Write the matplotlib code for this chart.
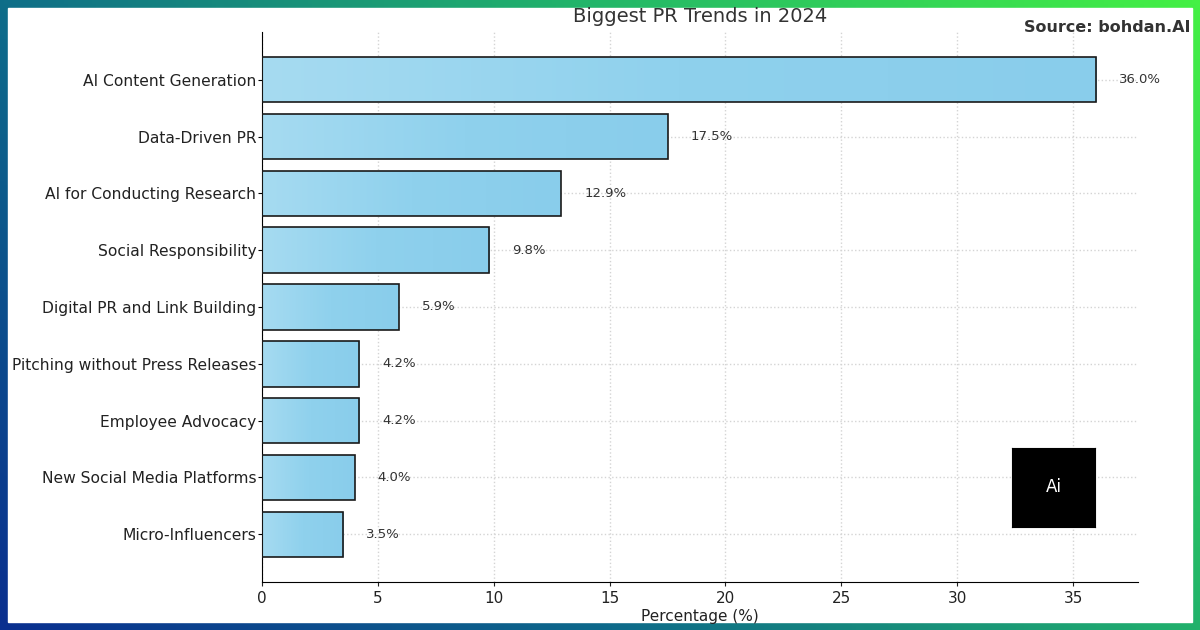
import matplotlib.pyplot as plt
import numpy as np
from matplotlib.colors import LinearSegmentedColormap
from matplotlib.patches import Rectangle

# Data
trends = ['AI Content Generation', 'Data-Driven PR', 'AI for Conducting Research',
          'Social Responsibility', 'Digital PR and Link Building',
          'Pitching without Press Releases', 'Employee Advocacy',
          'New Social Media Platforms', 'Micro-Influencers']
percent = [36.0, 17.5, 12.9, 9.8, 5.9, 4.2, 4.2, 4.0, 3.5]

fig = plt.figure(figsize=(12, 6.3), dpi=100)

# gradient frame behind everything
bg = fig.add_axes([0, 0, 1, 1], zorder=-10)
gx, gy = np.meshgrid(np.linspace(0, 1, 300), np.linspace(0, 1, 160))
frame_cmap = LinearSegmentedColormap.from_list('frame', ['#0a2f8f', '#0e6a8a', '#22b56a', '#44f044'])
bg.imshow(0.65 * gx + 0.35 * gy, cmap=frame_cmap, extent=[0, 1, 0, 1], aspect='auto', origin='lower')
bg.add_patch(Rectangle((8 / 1200, 8 / 630), 1184 / 1200, 614 / 630, color='white'))
bg.set_xlim(0, 1)
bg.set_ylim(0, 1)
bg.axis('off')

ax = fig.add_axes([262 / 1200, 48 / 630, 876 / 1200, 550 / 630])
ax.patch.set_alpha(0)

y = np.arange(len(trends))
bars = ax.barh(y, percent, height=0.8, color='none', edgecolor='#1a1a1a', linewidth=1.2, zorder=3)

# soft gradient fill inside each bar
bar_cmap = LinearSegmentedColormap.from_list('bar', ['#a6dbf1', '#8fd1ed', '#89cdeb'])
grad = np.linspace(0, 1, 256).reshape(1, -1)
for b in bars:
    x0, y0 = b.get_x(), b.get_y()
    w, h = b.get_width(), b.get_height()
    im = ax.imshow(grad, cmap=bar_cmap, extent=[x0, x0 + w, y0 + h, y0], aspect='auto', zorder=2)
    im.set_clip_path(b)
ax.set_ylim(len(trends) - 0.5 + 0.34, -0.5 - 0.34)
ax.set_xlim(0, max(percent) * 1.05)

for yi, v in zip(y, percent):
    ax.text(v + 1, yi, f'{v:.1f}%', va='center', ha='left', fontsize=9.5, color='#333333')

ax.set_yticks(y)
ax.set_yticklabels(trends, fontsize=11.2, color='#222222')
ax.tick_params(axis='y', length=3, pad=1)
ax.tick_params(axis='x', labelsize=11, colors='#222222', length=3)
ax.set_xlabel('Percentage (%)', fontsize=11, color='#222222', labelpad=2)
ax.grid(True, linestyle=':', color='#d4d4d4', linewidth=1, zorder=0)
ax.set_axisbelow(True)
for s in ['top', 'right']:
    ax.spines[s].set_visible(False)

fig.text(700 / 1200, 1 - 17 / 630, 'Biggest PR Trends in 2024',
         ha='center', va='center', fontsize=14, color='#333333')
fig.text(1190 / 1200, 1 - 28 / 630, 'Source: bohdan.AI', ha='right', va='center',
         fontsize=11.5, fontweight='bold', color='#333333')

# small logo box
logo = fig.add_axes([1012 / 1200, 1 - 527 / 630, 83 / 1200, 79 / 630])
logo.set_facecolor('black')
logo.set_xticks([])
logo.set_yticks([])
logo.text(0.5, 0.5, 'Ai', color='white', ha='center', va='center', fontsize=12, transform=logo.transAxes)

fig.savefig('out.png', dpi=100)
